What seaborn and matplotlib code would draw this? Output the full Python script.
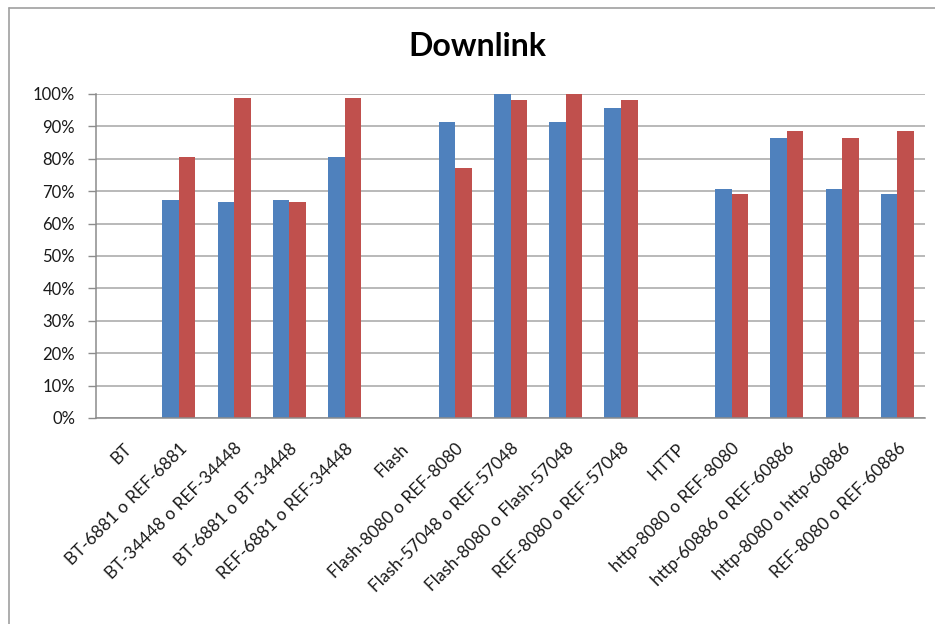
import numpy as np
import pandas as pd
import seaborn as sns
import matplotlib.pyplot as plt
from matplotlib.lines import Line2D

# chart data
categories = [
    "BT", "BT-6881 o REF-6881", "BT-34448 o REF-34448", "BT-6881 o BT-34448",
    "REF-6881 o REF-34448", "Flash", "Flash-8080 o REF-8080",
    "Flash-57048 o REF-57048", "Flash-8080 o Flash-57048",
    "REF-8080 o REF-57048", "HTTP", "http-8080 o REF-8080",
    "http-60886 o REF-60886", "http-8080 o http-60886", "REF-8080 o REF-60886",
]
series_names = ["Serie 1", "Serie 2"]
serie1 = [np.nan, 67.3, 66.8, 67.3, 80.7, np.nan, 91.5, 100.0, 91.5, 95.8,
          np.nan, 70.6, 86.3, 70.6, 69.1]
serie2 = [np.nan, 80.7, 98.7, 66.8, 98.7, np.nan, 77.3, 98.2, 100.0, 98.2,
          np.nan, 69.1, 88.7, 86.3, 88.7]
colors = ["#4F81BD", "#C0504D"]

df = pd.DataFrame({
    "category": categories * 2,
    "series": [series_names[0]] * len(categories) + [series_names[1]] * len(categories),
    "value": serie1 + serie2,
})

sns.set_style("white")
plt.rcParams["font.family"] = ["Lato", "DejaVu Sans"]

fig = plt.figure(figsize=(9.35, 6.24), dpi=100)
ax = fig.add_axes([96 / 935, 1 - 418 / 624, (925 - 96) / 935, (418 - 94) / 624])

sns.barplot(data=df, x="category", y="value", hue="series", order=categories,
            hue_order=series_names, palette=colors, width=0.6, saturation=1,
            edgecolor="none", ax=ax, legend=False)

ax.set_xlim(-0.5, len(categories) - 0.5)
ax.set_ylim(0, 100)
ax.set_yticks(np.arange(0, 101, 10))
ax.set_yticklabels([f"{v}%" for v in range(0, 101, 10)], fontsize=12,
                   color="#1a1a1a")
ax.yaxis.grid(True, color="#A6A6A6", linewidth=1.1)
ax.set_axisbelow(True)
ax.set_xlabel("")
ax.set_ylabel("")

# category labels at centres, tick marks at boundaries
ax.set_xticks(range(len(categories)))
ax.set_xticklabels(categories, rotation=45, ha="right", rotation_mode="anchor",
                   fontsize=12.5, color="#1a1a1a")
ax.tick_params(axis="x", which="major", length=0, pad=16)
ax.set_xticks(np.arange(-0.5, len(categories), 1), minor=True)
ax.tick_params(axis="x", which="minor", length=6, color="#8C8C8C", width=1)
ax.tick_params(axis="y", length=6, color="#8C8C8C", width=1, left=True, pad=9)

for side in ["top", "right"]:
    ax.spines[side].set_visible(False)
for side in ["left", "bottom"]:
    ax.spines[side].set_color("#8C8C8C")
    ax.spines[side].set_linewidth(1.1)

fig.text(477 / 935, 1 - 47 / 624, "Downlink", ha="center", va="center",
         fontsize=23, fontweight="bold", color="black")

# chart frame
fig.add_artist(Line2D([9 / 935, 1.0], [1 - 8 / 624] * 2, transform=fig.transFigure,
                      color="#A0A0A0", linewidth=1.2))
fig.add_artist(Line2D([9 / 935] * 2, [0.0, 1 - 8 / 624], transform=fig.transFigure,
                      color="#A0A0A0", linewidth=1.2))

fig.savefig("out.png", dpi=100)
